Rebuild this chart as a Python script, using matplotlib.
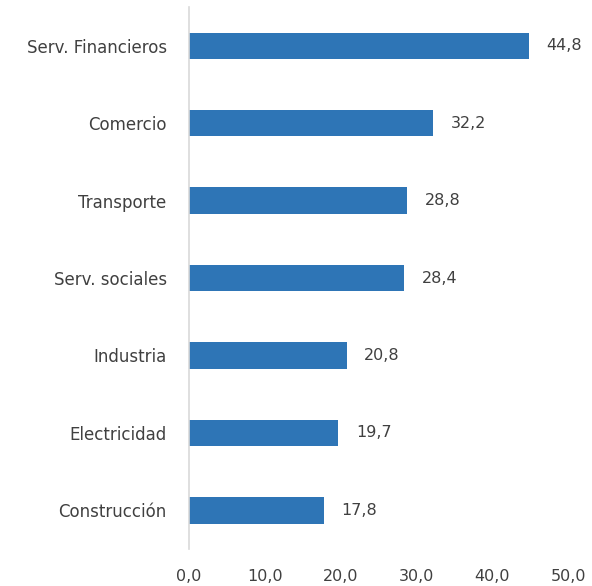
import matplotlib.pyplot as plt

sectores = ["Serv. Financieros", "Comercio", "Transporte", "Serv. sociales",
            "Industria", "Electricidad", "Construcción"]
valores = [44.8, 32.2, 28.8, 28.4, 20.8, 19.7, 17.8]
ticks = [0, 10, 20, 30, 40, 50]

azul = "#2E75B6"
gris = "#404040"

fig = plt.figure(figsize=(5.92, 5.86), dpi=100)
ax = fig.add_axes([0.319, 0.063, 0.641, 0.925])

pos = list(range(len(sectores)))[::-1]
ax.barh(pos, valores, height=0.34, color=azul)

for p, v in zip(pos, valores):
    ax.text(v + 2.3, p, f"{v:.1f}".replace(".", ","), va="center", ha="left",
            fontsize=11.5, color=gris)

ax.set_xlim(0, 50)
ax.set_ylim(-0.5, len(sectores) - 0.5)
ax.set_yticks(pos)
ax.set_yticklabels(sectores, fontsize=12, color=gris)
ax.set_xticks(ticks)
ax.set_xticklabels([f"{t:.1f}".replace(".", ",") for t in ticks], fontsize=11.5, color=gris)

for s in ["top", "right", "bottom"]:
    ax.spines[s].set_visible(False)
ax.spines["left"].set_color("#D9D9D9")
ax.spines["left"].set_linewidth(1.2)
ax.tick_params(axis="both", length=0)
ax.tick_params(axis="y", pad=16)
ax.tick_params(axis="x", pad=14)

fig.savefig("out.png", dpi=100)
